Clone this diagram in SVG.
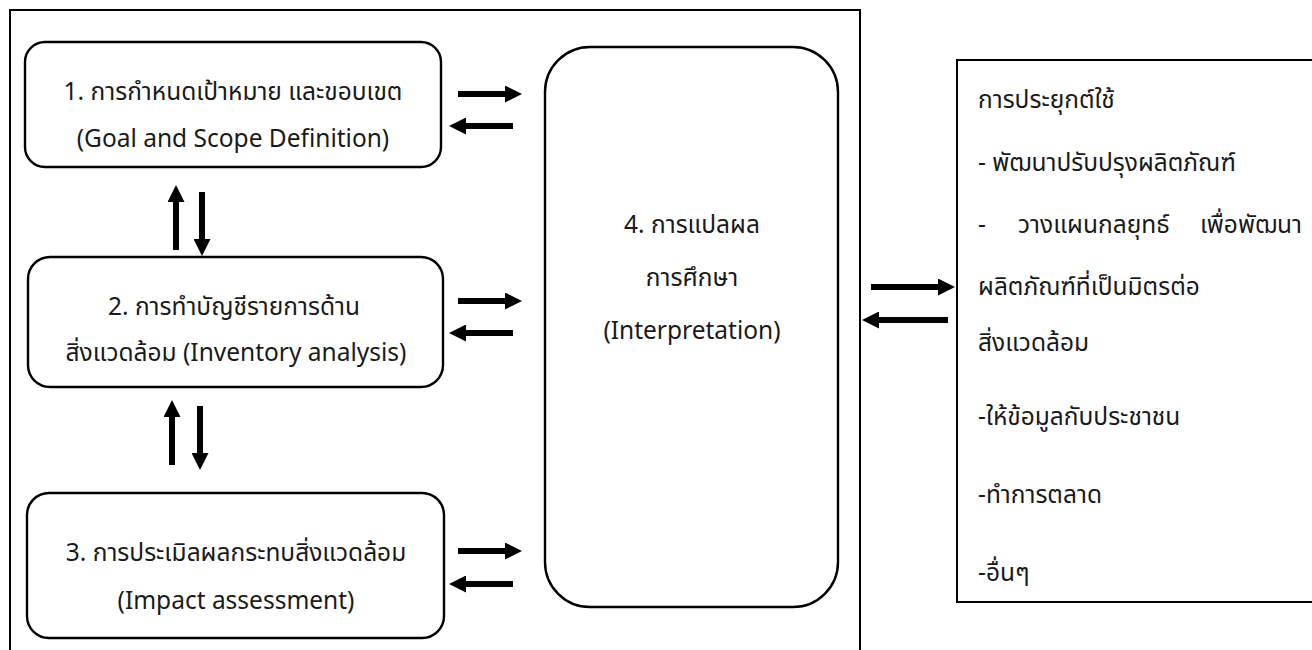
<svg xmlns="http://www.w3.org/2000/svg" width="1312" height="650" viewBox="0 0 1312 650">
  <defs>
    <marker id="head" markerUnits="userSpaceOnUse" markerWidth="17" markerHeight="17" refX="0" refY="8.5" orient="auto">
      <path d="M0,0 L17,8.5 L0,17 Z" fill="#000"/>
    </marker>
    <style>
      .frame { fill: none; stroke: #000; stroke-width: 2; }
      .box { fill: #fff; stroke: #000; stroke-width: 2.4; }
      .lbl { font-family: "Leelawadee UI", Tahoma, "Noto Sans Thai", "Noto Sans", "DejaVu Sans", sans-serif; font-size: 24.5px; fill: #1a1a1a; }
      .mid { text-anchor: middle; }
      .arr { stroke: #000; stroke-width: 6; fill: none; marker-end: url(#head); }
    </style>
  </defs>

  <rect width="1312" height="650" fill="#fff"/>

  <!-- LCA framework frame -->
  <rect id="frame" class="frame" x="10" y="10" width="850" height="670"/>

  <g id="goal-scope">
    <rect class="box" x="25" y="42" width="416" height="125" rx="20"/>
    <text class="lbl mid" x="233" y="100">1. การกำหนดเป้าหมาย และขอบเขต</text>
    <text class="lbl mid" x="233" y="147">(Goal and Scope Definition)</text>
  </g>

  <g id="inventory">
    <rect class="box" x="28" y="257" width="415" height="130" rx="22"/>
    <text class="lbl mid" x="234" y="315">2. การทำบัญชีรายการด้าน</text>
    <text class="lbl mid" x="236" y="361">สิ่งแวดล้อม (Inventory analysis)</text>
  </g>

  <g id="impact">
    <rect class="box" x="27" y="493" width="417" height="145" rx="22"/>
    <text class="lbl mid" x="236" y="561">3. การประเมิลผลกระทบสิ่งแวดล้อม</text>
    <text class="lbl mid" x="236" y="609">(Impact assessment)</text>
  </g>

  <g id="interpretation">
    <rect class="box" x="545" y="47" width="293" height="560" rx="45"/>
    <text class="lbl mid" x="692" y="233">4. การแปลผล</text>
    <text class="lbl mid" x="692" y="286">การศึกษา</text>
    <text class="lbl mid" x="692" y="339">(Interpretation)</text>
  </g>

  <g id="applications">
    <rect class="frame" x="957" y="60" width="380" height="542"/>
    <text class="lbl" x="978" y="108">การประยุกต์ใช้</text>
    <text class="lbl" x="978" y="171">- พัฒนาปรับปรุงผลิตภัณฑ์</text>
    <text class="lbl" x="978" y="233">-</text>
    <text class="lbl" x="1018" y="233">วางแผนกลยุทธ์</text>
    <text class="lbl" x="1302" y="233" text-anchor="end">เพื่อพัฒนา</text>
    <text class="lbl" x="978" y="295">ผลิตภัณฑ์ที่เป็นมิตรต่อ</text>
    <text class="lbl" x="978" y="351">สิ่งแวดล้อม</text>
    <text class="lbl" x="978" y="425">-ให้ข้อมูลกับประชาชน</text>
    <text class="lbl" x="978" y="503">-ทำการตลาด</text>
    <text class="lbl" x="978" y="581">-อื่นๆ</text>
  </g>

  <g id="connectors">
    <!-- steps 1-3 to interpretation -->
    <line class="arr" x1="458" y1="94" x2="505" y2="94"/>
    <line class="arr" x1="513" y1="126" x2="466" y2="126"/>
    <line class="arr" x1="458" y1="301" x2="505" y2="301"/>
    <line class="arr" x1="513" y1="333" x2="466" y2="333"/>
    <line class="arr" x1="458" y1="551" x2="505" y2="551"/>
    <line class="arr" x1="513" y1="584" x2="466" y2="584"/>
    <!-- between steps 1 and 2 -->
    <line class="arr" x1="176" y1="250" x2="176" y2="202"/>
    <line class="arr" x1="202" y1="192" x2="202" y2="239"/>
    <!-- between steps 2 and 3 -->
    <line class="arr" x1="172" y1="465" x2="172" y2="417"/>
    <line class="arr" x1="200" y1="406" x2="200" y2="453"/>
    <!-- framework to applications -->
    <line class="arr" x1="871" y1="287" x2="938" y2="287"/>
    <line class="arr" x1="948" y1="320" x2="879" y2="320"/>
  </g>
</svg>
